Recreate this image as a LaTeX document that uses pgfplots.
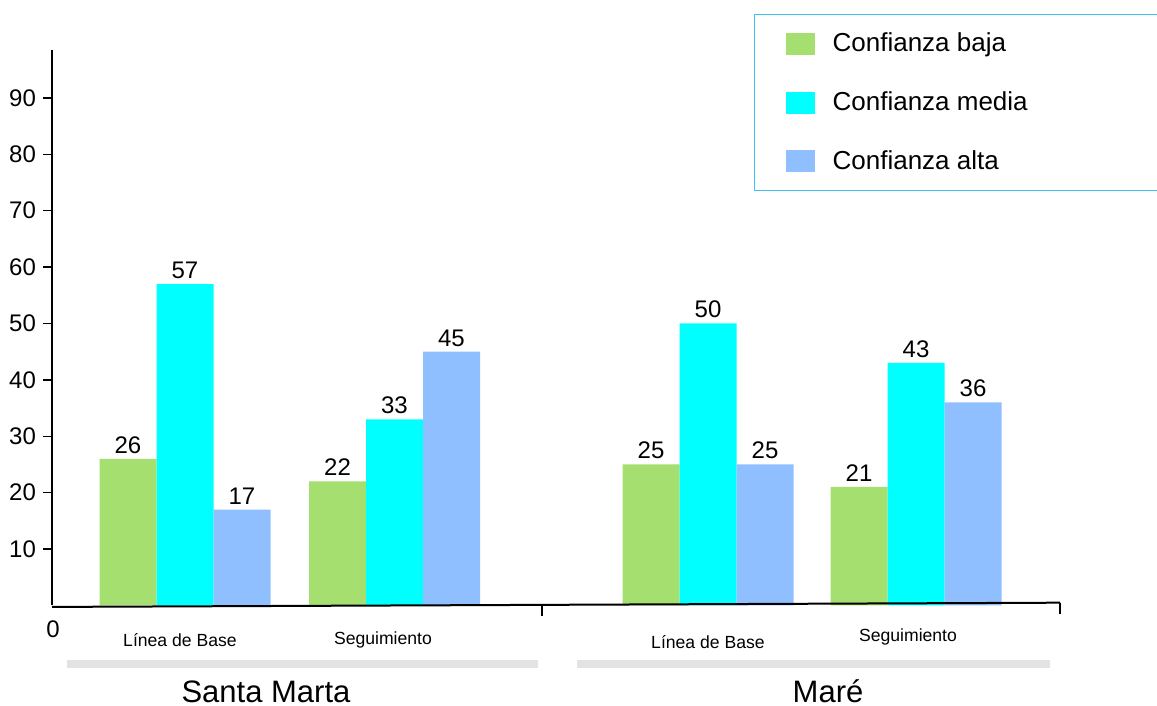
\documentclass[border=0pt]{standalone}
\usepackage{pgfplots}
\pgfplotsset{compat=1.18}
\usepackage{fontspec}
\setmainfont{Liberation Sans}

\definecolor{cbaja}{HTML}{A5DF6F}
\definecolor{cmedia}{HTML}{00FFFF}
\definecolor{calta}{HTML}{8FBFFF}
\definecolor{barra}{HTML}{E3E3E3}

\pgfplotsset{
  sq/.style={legend image code/.code={
    \path[fill=none, draw=none] (0pt,-14.65pt) rectangle (23.5pt,14.65pt);
    \fill[##1] (0pt,-5.5pt) rectangle (14.5pt,5.5pt);
  }},
}

\begin{document}
\begin{tikzpicture}
\begin{axis}[
  name=ax,
  at={(0,0)}, anchor=south west,
  scale only axis,
  width=504pt, height=277.7pt,
  xmin=52, xmax=1060,
  ymin=0, ymax=98.5,
  axis x line=none,
  axis y line=left,
  axis line style={-, black, line width=1pt},
  ytick={10,20,...,90},
  tick align=outside,
  major tick length=4.5pt,
  ytick style={black, line width=0.7pt},
  yticklabel style={font=\fontsize{12}{14}\selectfont},
  /pgf/number format/assume math mode=true,
  ybar,
  bar width=57,
  clip=false,
  nodes near coords,
  every node near coord/.append style={font=\fontsize{12}{14}\selectfont, inner sep=2.5pt, black},
  legend cell align=left,
  legend style={
    at={(0.6964,1.0648)}, anchor=north west,
    draw=cyan!75!white, line width=0.65pt,
    inner xsep=15.5pt, inner ysep=0pt,
    row sep=0pt,
    nodes={inner sep=0pt},
    font=\fontsize{13}{15}\selectfont,
  },
]
\addplot[fill=cbaja, draw=none, bar shift=-57, sq] coordinates {
  (185,26) (394.5,22) (708,25) (916,21)};
\addlegendentry{\makebox[190pt][l]{Confianza baja}}
\addplot[fill=cmedia, draw=none, bar shift=0, sq] coordinates {
  (185,57) (394.5,33) (708,50) (916,43)};
\addlegendentry{\makebox[190pt][l]{Confianza media}}
\addplot[fill=calta, draw=none, bar shift=57, sq] coordinates {
  (185,17) (394.5,45) (708,25) (916,36)};
\addlegendentry{\makebox[190pt][l]{Confianza alta}}

% baseline of the category axis, with the separators
\draw[black, line width=1pt] (axis cs:52,-0.27) -- (axis cs:1060,0.48);
\draw[black, line width=0.7pt] (axis cs:542,0.18) -- (axis cs:542,-1.9);
\draw[black, line width=0.7pt] (axis cs:1060,0.48) -- (axis cs:1060,-1.6);
\node[font=\fontsize{12}{14}\selectfont] at (axis cs:53,-4.2) {0};

% category and group labels
\node[font=\fontsize{8.8}{10}\selectfont] at (axis cs:180,-6.12) {Línea de Base};
\node[font=\fontsize{8.8}{10}\selectfont] at (axis cs:383,-6.12) {Seguimiento};
\node[font=\fontsize{8.8}{10}\selectfont] at (axis cs:708,-6.47) {Línea de Base};
\node[font=\fontsize{8.8}{10}\selectfont] at (axis cs:908,-5.59) {Seguimiento};
\fill[barra] (axis cs:67,-9.66) rectangle (axis cs:538,-11.08);
\fill[barra] (axis cs:577,-9.66) rectangle (axis cs:1050,-11.08);
\node[font=\fontsize{15.5}{18}\selectfont, anchor=base, inner sep=0pt] at (axis cs:266,-17.2) {Santa Marta};
\node[font=\fontsize{15.5}{18}\selectfont, anchor=base, inner sep=0pt] at (axis cs:828,-17.2) {Maré};
\end{axis}
\pgfresetboundingbox
\useasboundingbox (-26pt,-50.3pt) rectangle (552.5pt,302.7pt);
\end{tikzpicture}
\end{document}
